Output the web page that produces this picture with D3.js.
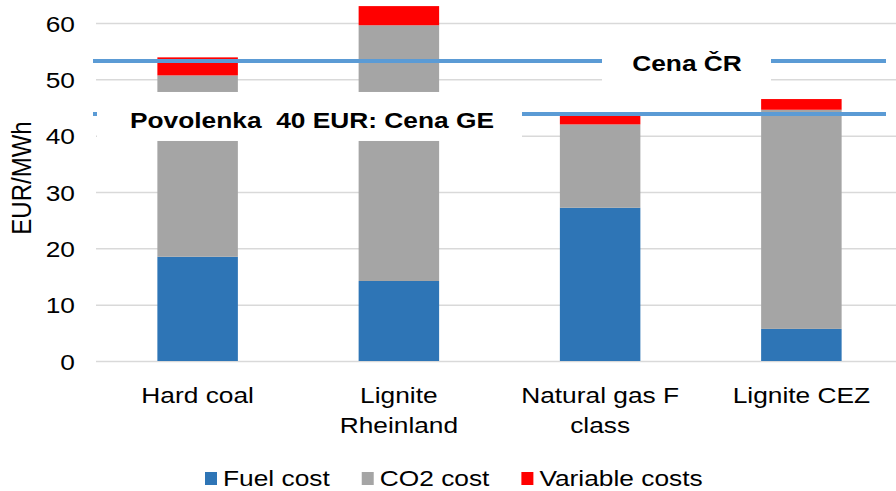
<!DOCTYPE html>
<html>
<head>
<meta charset="utf-8">
<script src="https://cdn.jsdelivr.net/npm/d3@7"></script>
<style>
  body { margin: 0; background: #fff; }
  text { font-family: "Liberation Sans", Arial, sans-serif; fill: #000; }
</style>
</head>
<body>
<script>
// Chart data
const categories = ["Hard coal", "Lignite Rheinland", "Natural gas F class", "Lignite CEZ"];
const categoryLines = [["Hard coal"], ["Lignite", "Rheinland"], ["Natural gas F", "class"], ["Lignite CEZ"]];
const fuelCost = [18.5, 14.2, 27.2, 5.7];
const co2Cost = [32.2, 45.4, 14.8, 38.9];
const variableCost = [3.2, 3.4, 1.5, 1.9];
const seriesNames = ["Fuel cost", "CO2 cost", "Variable costs"];
const yTicks = [0, 10, 20, 30, 40, 50, 60];
const priceCR = 53.25;
const priceGE = 43.85;

const width = 896, height = 491;
const stretch = 1.17; // text in the picture is a little wide
const fs = 22.5;
const colors = ["#2E75B6", "#A5A5A5", "#FF0000"];

let svg = d3.select('body')
  .append('svg')
  .attr('width', width)
  .attr('height', height);

// Scales
const x = d3.scaleBand()
  .domain(categories)
  .range([97, 902])
  .padding(0);

const y = d3.scaleLinear()
  .domain([0, 60])
  .range([361, 23]);

const barW = x.bandwidth() * 0.4;

// Y axis with gridlines
let yAxis = svg.append('g')
  .attr('transform', 'translate(96,0)')
  .call(d3.axisLeft(y).tickValues(yTicks).tickSize(-800).tickPadding(18));
yAxis.select('.domain').remove();
yAxis.selectAll('.tick line')
  .attr('stroke', '#d9d9d9')
  .attr('stroke-width', 1.5);
yAxis.selectAll('.tick text')
  .attr('font-size', fs)
  .attr('font-family', '"Liberation Sans", Arial, sans-serif')
  .attr('fill', '#000')
  .attr('dy', '0.36em')
  .attr('transform', `scale(${stretch},1)`);

// Y axis title
svg.append('text')
  .attr('transform', `translate(31,178) scale(${stretch},1) rotate(-90)`)
  .attr('text-anchor', 'middle')
  .attr('font-size', 24)
  .text('EUR/MWh');

// Stack the series
const table = categories.map((c, i) => ({
  cat: c, fuel: fuelCost[i], co2: co2Cost[i], variable: variableCost[i]
}));
const stacked = d3.stack().keys(['fuel', 'co2', 'variable'])(table);

svg.append('g').selectAll('g')
  .data(stacked)
  .enter()
  .append('g')
  .attr('fill', (d, i) => colors[i])
  .selectAll('rect')
  .data(d => d)
  .enter()
  .append('rect')
  .attr('x', d => x(d.data.cat) + (x.bandwidth() - barW) / 2)
  .attr('y', d => y(d[1]))
  .attr('width', barW)
  .attr('height', d => y(d[0]) - y(d[1]));

// X axis labels
let xAxis = svg.append('g')
  .attr('transform', 'translate(0,361)')
  .call(d3.axisBottom(x).tickSize(0).tickPadding(26));
xAxis.select('.domain').remove();
xAxis.selectAll('.tick text').each(function(d, i) {
  const t = d3.select(this);
  t.text(null)
    .attr('font-size', fs)
    .attr('font-family', '"Liberation Sans", Arial, sans-serif')
    .attr('fill', '#000')
    .attr('transform', `scale(${stretch},1)`);
  categoryLines[i].forEach((line, k) => {
    t.append('tspan')
      .attr('x', 0)
      .attr('dy', k === 0 ? '0.71em' : '30.3px')
      .text(line);
  });
});

// Price lines
const lineX = [93, 886];
svg.append('line')
  .attr('x1', lineX[0]).attr('x2', lineX[1])
  .attr('y1', y(priceCR)).attr('y2', y(priceCR))
  .attr('stroke', '#5B9BD5').attr('stroke-width', 4);
svg.append('line')
  .attr('x1', lineX[0]).attr('x2', lineX[1])
  .attr('y1', y(priceGE)).attr('y2', y(priceGE))
  .attr('stroke', '#5B9BD5').attr('stroke-width', 4);

// Label boxes on the lines
svg.append('rect')
  .attr('x', 602).attr('y', y(priceCR) - 19)
  .attr('width', 169).attr('height', 40)
  .attr('fill', '#fff');
svg.append('text')
  .attr('transform', `translate(687,${y(priceCR) + 10}) scale(${stretch},1)`)
  .attr('text-anchor', 'middle')
  .attr('font-size', fs)
  .attr('font-weight', 'bold')
  .text('Cena ČR');

svg.append('rect')
  .attr('x', 97).attr('y', y(priceGE) - 22)
  .attr('width', 425).attr('height', 49)
  .attr('fill', '#fff');
svg.append('text')
  .attr('transform', `translate(130,${y(priceGE) + 14}) scale(${stretch},1)`)
  .attr('font-size', fs)
  .attr('font-weight', 'bold')
  .style('white-space', 'pre')
  .text('Povolenka  40 EUR: Cena GE');

// Legend
let lx = 205;
seriesNames.forEach((name, i) => {
  svg.append('rect')
    .attr('x', lx).attr('y', 472)
    .attr('width', 12).attr('height', 13)
    .attr('fill', colors[i]);
  const t = svg.append('text')
    .attr('transform', `translate(${lx + 18},486) scale(${stretch},1)`)
    .attr('font-size', fs)
    .text(name);
  lx += 18 + t.node().getComputedTextLength() * stretch + 32;
});
</script>
</body>
</html>
